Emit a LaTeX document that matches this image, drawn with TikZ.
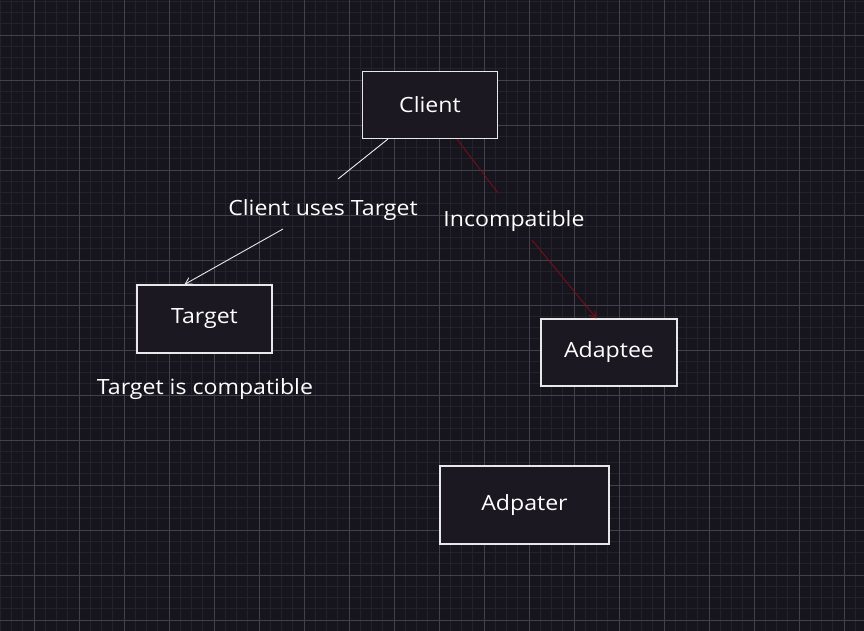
\documentclass[tikz,border=0pt]{standalone}
\usepackage{fontspec}
\setmainfont[FakeStretch=1.1]{Open Sans}
\usepackage{tikz}
\usetikzlibrary{arrows.meta}
\tikzset{>={Straight Barb[length=2.2mm,width=2.6mm]}}
\definecolor{canvas}{RGB}{22,20,28}
\definecolor{boxfill}{RGB}{27,24,33}
\definecolor{minorline}{RGB}{35,33,41}
\definecolor{majorline}{RGB}{66,64,72}
\definecolor{boxline}{RGB}{232,232,235}
\definecolor{inkred}{RGB}{122,14,24}

\begin{document}
\begin{tikzpicture}[
    x = 1pt, y = -1pt,
    box/.style = {draw=boxline, fill=boxfill, line width=1.1pt,
        minimum width=135pt, minimum height=67pt, text=white,
        font=\fontsize{21}{24}\selectfont},
    note/.style = {text=white, font=\fontsize{21}{24}\selectfont},
    tie/.style = {draw=boxline, line width=0.9pt},
    redtie/.style = {draw=inkred, line width=0.9pt}
  ]
  \fill[canvas] (0,0) rectangle (864,631);
  \useasboundingbox (0,0) rectangle (864,631);

  % grid
  \foreach \i in {0,...,76}
  \draw[minorline, line width=0.6pt] ({0.25+11.25*\i},0) -- ({0.25+11.25*\i},631);
  \foreach \j in {0,...,56}
  \draw[minorline, line width=0.6pt] (0,{1.25+11.25*\j}) -- (864,{1.25+11.25*\j});
  \foreach \i in {0,...,18}
  \draw[majorline, line width=0.6pt] ({34+45*\i},0) -- ({34+45*\i},631);
  \foreach \j in {0,...,13}
  \draw[majorline, line width=0.6pt] (0,{35+45*\j}) -- (864,{35+45*\j});

  \node[box] (client) at (430,105) {\raisebox{-1.5pt}{Client}};
  \node[box, minimum height=68pt] (target) at (204.5,319) {\raisebox{-2pt}{Target}};
  \node[box, minimum width=136pt] (adaptee) at (609,352.5) {\raisebox{-2pt}{Adaptee}};
  \node[box, minimum width=169pt, minimum height=78pt] (adpater) at (524.5,505) {\raisebox{-2pt}{Adpater}};

  \node[note] (uses) at (323,210) {Client uses Target};
  \node[note] (incompat) at (514,221) {Incompatible};
  \node[note] (compat) at (205,389) {Target is compatible};

  \draw[tie] ([xshift=26pt]client.south west) -- ([shift={(15,-31)}]uses.center);
  \draw[tie, ->] ([shift={(-40,19)}]uses.center) -- ([xshift=48pt]target.north west);

  \draw[redtie] ([xshift=95pt]client.south west) -- ([shift={(-16,-28)}]incompat.center);
  \draw[redtie, ->] ([shift={(18,19)}]incompat.center) -- ([xshift=56pt]adaptee.north west);
\end{tikzpicture}
\end{document}
